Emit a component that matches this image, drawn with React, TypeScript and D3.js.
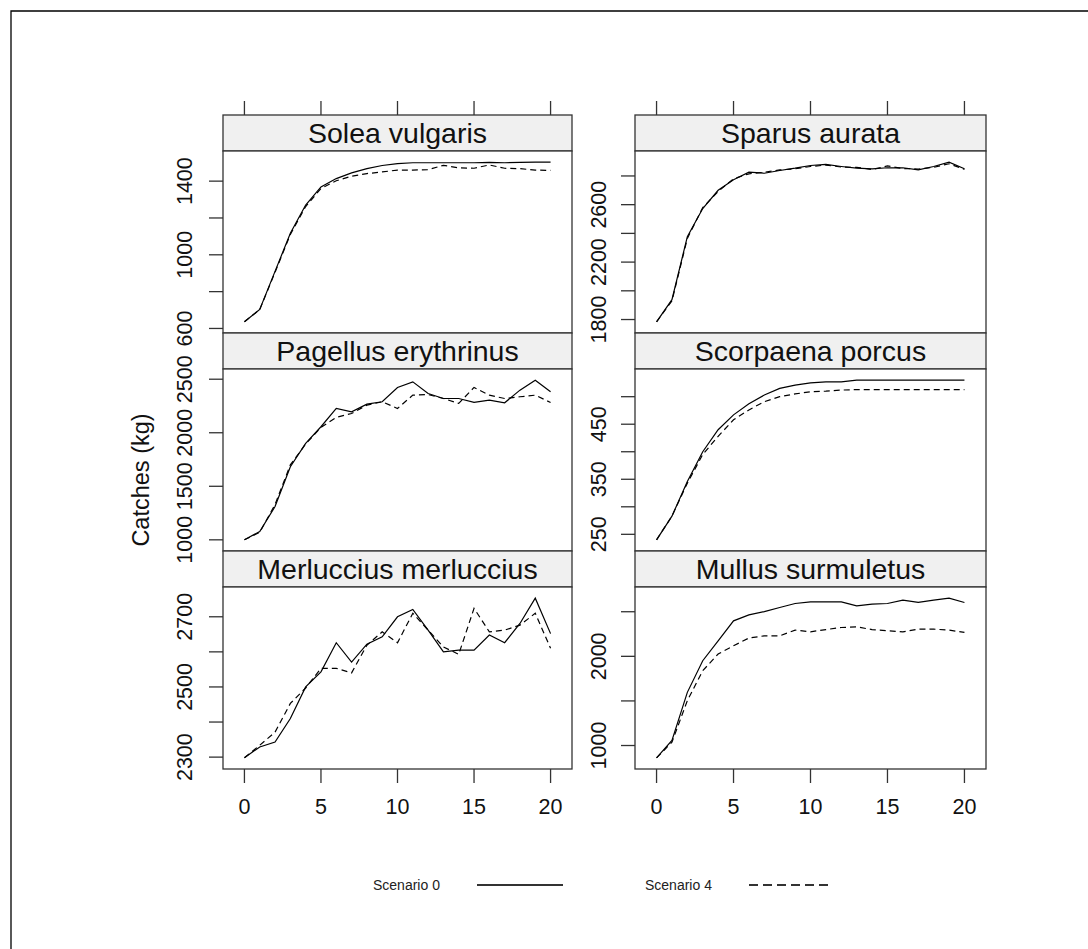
import React from "react";
import * as d3 from "d3";

// time steps (x axis)
const steps = [0, 1, 2, 3, 4, 5, 6, 7, 8, 9, 10, 11, 12, 13, 14, 15, 16, 17, 18, 19, 20];
const xTicks = [0, 5, 10, 15, 20];

const species = [
  "Solea vulgaris",
  "Sparus aurata",
  "Pagellus erythrinus",
  "Scorpaena porcus",
  "Merluccius merluccius",
  "Mullus surmuletus",
];

// Scenario 0 (solid) and Scenario 4 (dashed) catches, kg
const soleaS0 = [636, 703, 910, 1117, 1270, 1369, 1414, 1445, 1468, 1485, 1495, 1500, 1500, 1500, 1500, 1500, 1502, 1500, 1502, 1503, 1503];
const soleaS4 = [636, 703, 905, 1110, 1262, 1360, 1402, 1427, 1441, 1450, 1460, 1460, 1462, 1486, 1472, 1470, 1488, 1470, 1468, 1460, 1458];
const sparusS0 = [1784, 1938, 2377, 2573, 2700, 2774, 2826, 2819, 2838, 2854, 2873, 2880, 2866, 2854, 2850, 2857, 2857, 2843, 2866, 2896, 2850];
const sparusS4 = [1784, 1930, 2365, 2580, 2692, 2780, 2815, 2826, 2842, 2850, 2866, 2876, 2862, 2860, 2845, 2870, 2852, 2848, 2860, 2885, 2846];
const pagellusS0 = [1000, 1078, 1311, 1683, 1901, 2056, 2227, 2196, 2267, 2289, 2423, 2475, 2367, 2320, 2320, 2283, 2305, 2280, 2398, 2491, 2382];
const pagellusS4 = [1000, 1070, 1330, 1700, 1895, 2050, 2143, 2180, 2258, 2289, 2227, 2351, 2357, 2320, 2274, 2423, 2351, 2320, 2336, 2351, 2283];
const scorpaenaS0 = [240, 283, 346, 400, 440, 467, 487, 503, 515, 521, 525, 527, 527, 530, 530, 530, 530, 530, 530, 530, 530];
const scorpaenaS4 = [240, 283, 343, 395, 428, 458, 476, 491, 500, 505, 509, 510, 512, 513, 513, 513, 513, 513, 513, 513, 513];
const merlucciusS0 = [2298, 2329, 2343, 2410, 2500, 2543, 2626, 2571, 2622, 2643, 2700, 2721, 2662, 2600, 2605, 2605, 2648, 2626, 2681, 2753, 2652];
const merlucciusS4 = [2298, 2334, 2371, 2453, 2497, 2553, 2553, 2540, 2619, 2657, 2626, 2710, 2662, 2614, 2593, 2724, 2657, 2662, 2676, 2710, 2610];
const mullusS0 = [862, 1056, 1596, 1951, 2174, 2398, 2465, 2502, 2547, 2592, 2611, 2611, 2611, 2566, 2585, 2592, 2630, 2604, 2630, 2652, 2604];
const mullusS4 = [862, 1037, 1503, 1839, 2026, 2119, 2205, 2230, 2230, 2294, 2275, 2300, 2323, 2330, 2300, 2287, 2275, 2305, 2305, 2294, 2268];

const scenario0 = [soleaS0, sparusS0, pagellusS0, scorpaenaS0, merlucciusS0, mullusS0];
const scenario4 = [soleaS4, sparusS4, pagellusS4, scorpaenaS4, merlucciusS4, mullusS4];

// y ticks per panel, and which of them get a label
const yTicks = [
  [600, 800, 1000, 1200, 1400],
  [1800, 2000, 2200, 2400, 2600, 2800],
  [1000, 1500, 2000, 2500],
  [250, 300, 350, 400, 450, 500],
  [2300, 2400, 2500, 2600, 2700],
  [1000, 1500, 2000, 2500],
];
const yLabels = [
  [600, 1000, 1400],
  [1800, 2200, 2600],
  [1000, 1500, 2000, 2500],
  [250, 350, 450],
  [2300, 2500, 2700],
  [1000, 2000],
];

const legendLabels = ["Scenario 0", "Scenario 4"];

const W = 1088;
const H = 949;
const FONT = "'Liberation Sans', Arial, sans-serif";
const colLeft = [223, 635];
const colRight = [572, 986];
const top0 = 115;
const rowH = 218;
const stripH = 36;
const tickLen = 14;

const Panel = ({ idx }: { idx: number }) => {
  const col = idx % 2;
  const row = Math.floor(idx / 2);
  const x0 = colLeft[col];
  const x1 = colRight[col];
  const stripTop = top0 + row * rowH;
  const pTop = stripTop + stripH;
  const pBot = stripTop + rowH;

  const x = d3.scaleLinear().domain([-1.4, 21.4]).range([x0, x1]);
  const all = scenario0[idx].concat(scenario4[idx]);
  const [lo, hi] = d3.extent(all) as [number, number];
  const pad = (hi - lo) * 0.07;
  const y = d3.scaleLinear().domain([lo - pad, hi + pad]).range([pBot, pTop]);

  const line = d3
    .line<number>()
    .x((_, i) => x(steps[i]))
    .y((v) => y(v));

  const labelX = col === 0 ? x0 - 31 : x0 - 29;

  return (
    <g>
      {/* strip */}
      <rect x={x0} y={stripTop} width={x1 - x0} height={stripH} fill="#f0f0f0" stroke="#333" strokeWidth={1.3} />
      <text x={(x0 + x1) / 2} y={stripTop + 28} textAnchor="middle" fontSize={28.5} fontFamily={FONT} fill="#111">
        {species[idx]}
      </text>
      {/* panel */}
      <rect x={x0} y={pTop} width={x1 - x0} height={pBot - pTop} fill="#fff" stroke="#333" strokeWidth={1.3} />
      <path d={line(scenario0[idx]) || ""} fill="none" stroke="#000" strokeWidth={1.2} />
      <path d={line(scenario4[idx]) || ""} fill="none" stroke="#000" strokeWidth={1.2} strokeDasharray="6,4" />
      {/* y axis */}
      {yTicks[idx].map((t) => (
        <line key={t} x1={x0 - tickLen} x2={x0} y1={y(t)} y2={y(t)} stroke="#333" strokeWidth={1.3} />
      ))}
      {yLabels[idx].map((t) => (
        <text key={t} transform={`translate(${labelX},${y(t)}) rotate(-90)`} textAnchor="middle" fontSize={21.5} fontFamily={FONT} fill="#111">
          {t}
        </text>
      ))}
      {/* top ticks on first row */}
      {row === 0 &&
        xTicks.map((t) => (
          <line key={t} x1={x(t)} x2={x(t)} y1={stripTop - tickLen} y2={stripTop} stroke="#333" strokeWidth={1.3} />
        ))}
      {/* bottom axis on last row */}
      {row === 2 &&
        xTicks.map((t) => (
          <g key={t}>
            <line x1={x(t)} x2={x(t)} y1={pBot} y2={pBot + tickLen} stroke="#333" strokeWidth={1.3} />
            <text x={x(t)} y={pBot + 45} textAnchor="middle" fontSize={21.5} fontFamily={FONT} fill="#111">
              {t}
            </text>
          </g>
        ))}
    </g>
  );
};

const App = () => {
  return (
    <svg width={W} height={H} style={{ position: "absolute", left: 0, top: 0, background: "#fff" }}>
      <rect x={0} y={0} width={W} height={H} fill="#fff" />
      {/* outer frame */}
      <path d={`M11,${H + 5} L11,11 L${W + 5},11`} fill="none" stroke="#000" strokeWidth={1.3} />
      {species.map((_, i) => (
        <Panel key={i} idx={i} />
      ))}
      <text transform="translate(149,480) rotate(-90)" textAnchor="middle" fontSize={23.5} fontFamily={FONT} fill="#111">
        Catches (kg)
      </text>
      {/* legend */}
      <text x={373} y={890} fontSize={14} fontFamily={FONT} fill="#222">
        {legendLabels[0]}
      </text>
      <line x1={477} x2={563} y1={885} y2={885} stroke="#333" strokeWidth={2} />
      <text x={645} y={890} fontSize={14} fontFamily={FONT} fill="#222">
        {legendLabels[1]}
      </text>
      <line x1={749} x2={833} y1={885} y2={885} stroke="#333" strokeWidth={2} strokeDasharray="9,5" />
    </svg>
  );
};

export default App;
